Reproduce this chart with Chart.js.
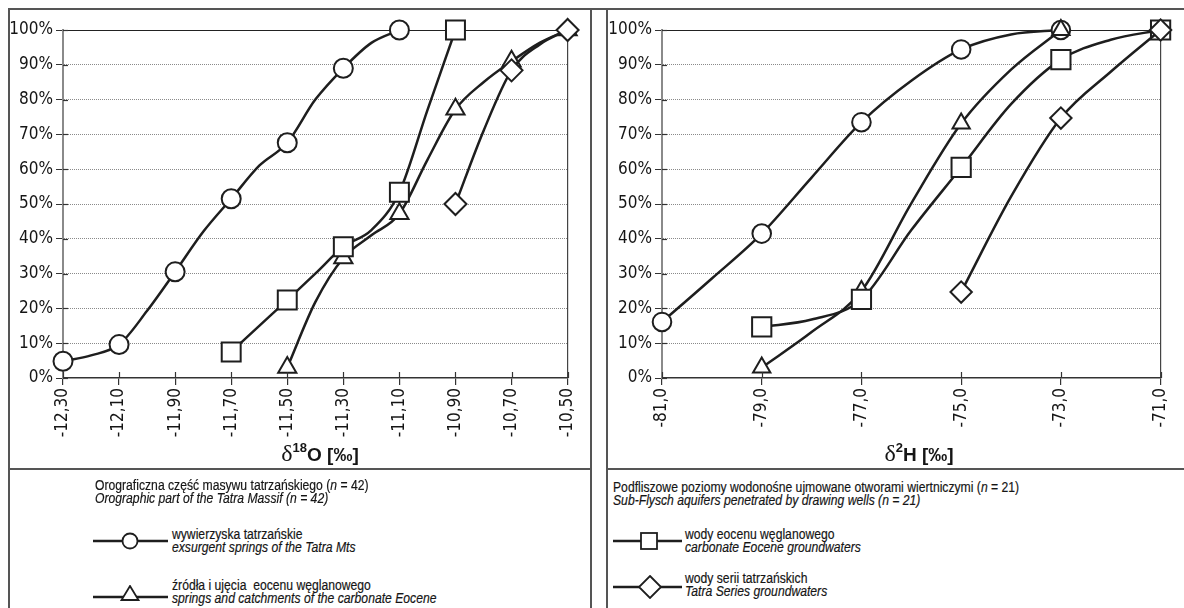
<!DOCTYPE html>
<html>
<head>
<meta charset="utf-8">
<script src="https://cdn.jsdelivr.net/npm/chart.js@4.4.1/dist/chart.umd.min.js"></script>
<style>
  body { margin:0; background:#fff; width:1184px; height:608px; overflow:hidden; position:relative;
         font-family:'Liberation Sans',Arial,sans-serif; color:#151515; }
  .box { position:absolute; box-sizing:border-box; border:2px solid #555; }
  canvas { position:absolute; }
  .ttl { position:absolute; text-align:center; font-weight:bold; font-size:19px; }
  .ttl .d { font-family:'Liberation Serif','DejaVu Serif',serif; font-weight:normal; font-size:24px; }
  .ttl sup { font-size:13px; position:relative; top:-2px; }
  .txt { position:absolute; font-size:15.5px; line-height:13px; white-space:nowrap;
         transform:scaleX(0.785); transform-origin:0 0; -webkit-text-stroke:0.2px #151515; }
  .txt i { font-style:italic; }
  svg { position:absolute; }
</style>
</head>
<body>
<div class="box" style="left:8px;top:8px;width:584px;height:462px;"></div>
<div class="box" style="left:606px;top:8px;width:600px;height:462px;"></div>
<div class="box" style="left:8px;top:468px;width:584px;height:160px;"></div>
<div class="box" style="left:606px;top:468px;width:600px;height:160px;"></div>
<div style="position:absolute;left:590px;top:8px;width:18px;height:2px;background:#555;"></div>

<canvas id="grafO" width="583" height="460" style="left:8px;top:9px;"></canvas>
<canvas id="grafH" width="578" height="460" style="left:606px;top:9px;"></canvas>

<div class="ttl" style="left:220px;top:440px;width:200px;"><span class="d">δ</span><sup>18</sup>O [‰]</div>
<div class="ttl" style="left:819px;top:440px;width:200px;"><span class="d">δ</span><sup>2</sup>H [‰]</div>

<!-- legenda lewa -->
<div class="txt" style="left:95px;top:478px;">Orograficzna część masywu tatrzańskiego (<i>n</i> = 42)<br><i>Orographic part of the Tatra Massif (n = 42)</i></div>
<svg style="left:92px;top:531px;" width="78" height="20"><line x1="1" y1="10" x2="76" y2="10" stroke="#1e1e1e" stroke-width="2.5"/><circle cx="38" cy="10" r="7.5" fill="#fff" stroke="#1e1e1e" stroke-width="1.8"/></svg>
<div class="txt" style="left:172px;top:527px;">wywierzyska tatrzańskie<br><i>exsurgent springs of the Tatra Mts</i></div>
<svg style="left:92px;top:585px;" width="78" height="20"><line x1="1" y1="12" x2="76" y2="12" stroke="#1e1e1e" stroke-width="2.5"/><polygon points="38,1 46.5,15 29.5,15" fill="#fff" stroke="#1e1e1e" stroke-width="1.8"/></svg>
<div class="txt" style="left:172px;top:578px;">źródła i ujęcia&nbsp; eocenu węglanowego<br><i>springs and catchments of the carbonate Eocene</i></div>

<!-- legenda prawa -->
<div class="txt" style="left:613px;top:480px;">Podfliszowe poziomy wodonośne ujmowane otworami wiertniczymi (<i>n</i> = 21)<br><i>Sub-Flysch aquifers penetrated by drawing wells (n = 21)</i></div>
<svg style="left:612px;top:530px;" width="72" height="22"><line x1="1" y1="11" x2="70" y2="11" stroke="#1e1e1e" stroke-width="2.5"/><rect x="29" y="3" width="16" height="16" fill="#fff" stroke="#1e1e1e" stroke-width="1.8"/></svg>
<div class="txt" style="left:685px;top:527px;">wody eocenu węglanowego<br><i>carbonate Eocene groundwaters</i></div>
<svg style="left:612px;top:575px;" width="72" height="24"><line x1="1" y1="12" x2="70" y2="12" stroke="#1e1e1e" stroke-width="2.5"/><polygon points="38,1 49,12 38,23 27,12" fill="#fff" stroke="#1e1e1e" stroke-width="1.8"/></svg>
<div class="txt" style="left:685px;top:571px;">wody serii tatrzańskich<br><i>Tatra Series groundwaters</i></div>

<script>
// osie
var pctTicks = [0,10,20,30,40,50,60,70,80,90,100];
var ticksO = [-12.3,-12.1,-11.9,-11.7,-11.5,-11.3,-11.1,-10.9,-10.7,-10.5];
var ticksH = [-81,-79,-77,-75,-73,-71];

// delta 18O - orograficzna czesc masywu
var circO_x = [-12.3,-12.2,-12.1,-12.0,-11.9,-11.8,-11.7,-11.6,-11.5,-11.4,-11.3,-11.2,-11.1];
var circO_y = [4.8,6.5,9.6,19.3,30.5,42,51.5,61,67.6,80,89,96.3,100];
var triO_x = [-11.5,-11.4,-11.3,-11.2,-11.1,-11.0,-10.9,-10.8,-10.7,-10.6,-10.5];
var triO_y = [3,21.8,34.5,41,47.2,62.7,77.2,85,91,96.3,100];
var sqO_x = [-11.7,-11.6,-11.5,-11.4,-11.3,-11.2,-11.1,-11.0,-10.9];
var sqO_y = [7.5,15,22.4,30,37.7,42.5,53.4,77,100];
var diaO_x = [-10.9,-10.8,-10.7,-10.6,-10.5];
var diaO_y = [50,71,88.4,95.8,100];

// delta 2H - podfliszowe poziomy wodonosne
var circH_x = [-81,-80,-79,-78,-77,-76,-75,-74,-73];
var circH_y = [16.1,28.6,41.5,57.6,73.5,85.4,94.4,98.7,100];
var triH_x = [-79,-78,-77,-76,-75,-74,-73];
var triH_y = [3,13.2,25,50.2,73.1,88.6,100];
var sqH_x = [-79,-78,-77,-76,-75,-74,-73,-72,-71];
var sqH_y = [14.7,16.8,22.6,42.5,60.5,78.7,91.5,97.2,100];
var diaH_x = [-75,-74,-73,-72,-71];
var diaH_y = [24.7,52.1,74.7,88,100];

var czcionka = { family: "'DejaVu Sans Condensed','Liberation Sans',sans-serif", size: 17 };
var czarny = '#1e1e1e';

function naTiku(x, ticks){
    return ticks.some(function(t){ return Math.abs(t - x) < 1e-6; });
}

function seria(xs, ys, styl, r, ticks){
    return {
        data: xs.map(function(x, i){ return {x: x, y: ys[i]}; }),
        borderColor: czarny,
        borderWidth: 2.5,
        pointStyle: styl,
        pointRadius: xs.map(function(x){ return naTiku(x, ticks) ? r : 0; }),
        pointBackgroundColor: '#fff',
        pointBorderColor: czarny,
        pointBorderWidth: 2,
        cubicInterpolationMode: 'monotone',
        fill: false,
        clip: false
    };
}

// krotkie kreski osi do wnetrza wykresu
var kreski = {
    id: 'kreski',
    afterDraw: function(chart){
        var c = chart.ctx, a = chart.chartArea;
        c.save();
        c.strokeStyle = '#333';
        c.lineWidth = 1.2;
        chart.scales.x.ticks.forEach(function(t){
            var px = Math.round(chart.scales.x.getPixelForValue(t.value)) + 0.5;
            c.beginPath(); c.moveTo(px, a.bottom); c.lineTo(px, a.bottom - 6); c.stroke();
        });
        chart.scales.y.ticks.forEach(function(t){
            var py = Math.round(chart.scales.y.getPixelForValue(t.value)) + 0.5;
            c.beginPath(); c.moveTo(a.left, py); c.lineTo(a.left + 5, py); c.stroke();
        });
        c.restore();
    }
};

function wykres(id, datasets, ticks, fmt, yWidth, rightPad){
    var ostatni = ticks[ticks.length - 1];
    return new Chart(document.getElementById(id).getContext('2d'), {
        type: 'line',
        data: { datasets: datasets },
        plugins: [kreski],
        options: {
            responsive: false,
            animation: false,
            devicePixelRatio: 1,
            layout: { padding: { top: 21, right: rightPad, left: 0, bottom: 0 } },
            plugins: { legend: { display: false }, tooltip: { enabled: false } },
            scales: {
                x: {
                    type: 'linear',
                    min: ticks[0],
                    max: ostatni,
                    afterBuildTicks: function(s){ s.ticks = ticks.map(function(v){ return {value: v}; }); },
                    afterFit: function(s){ s.height = 91; },
                    ticks: { callback: fmt, minRotation: 90, maxRotation: 90, autoSkip: false,
                             font: czcionka, color: '#151515', padding: 3 },
                    grid: {
                        color: function(ctx){ return ctx.tick && Math.abs(ctx.tick.value - ostatni) < 1e-6 ? '#444' : 'rgba(0,0,0,0)'; },
                        tickColor: '#333', tickLength: 7, lineWidth: 1.2
                    },
                    border: { color: '#333', width: 1.5 }
                },
                y: {
                    min: 0,
                    max: 100,
                    afterBuildTicks: function(s){ s.ticks = pctTicks.map(function(v){ return {value: v}; }); },
                    afterFit: function(s){ s.width = yWidth; },
                    ticks: { callback: function(v){ return v + '%'; }, font: czcionka, color: '#151515', padding: 3 },
                    grid: {
                        color: function(ctx){
                            if (!ctx.tick) return '#888';
                            if (ctx.tick.value === 100) return '#222';
                            if (ctx.tick.value === 0) return 'rgba(0,0,0,0)';
                            return '#8a8a8a';
                        },
                        tickColor: '#333', tickLength: 7, lineWidth: 1
                    },
                    border: {
                        color: '#8a8a8a', width: 2,
                        dash: function(ctx){ return ctx.tick && ctx.tick.value === 100 ? [] : [1, 1]; }
                    }
                }
            }
        }
    });
}

window.onload = function(){
    wykres('grafO', [
        seria(diaO_x, diaO_y, 'rectRot', 11, ticksO),
        seria(sqO_x, sqO_y, 'rect', 13.4, ticksO),
        seria(triO_x, triO_y, 'triangle', 10.5, ticksO),
        seria(circO_x, circO_y, 'circle', 9.5, ticksO)
    ], ticksO, function(v){ return v.toFixed(2).replace('.', ','); }, 55, 14);

    wykres('grafH', [
        seria(diaH_x, diaH_y, 'rectRot', 10.7, ticksH),
        seria(sqH_x, sqH_y, 'rect', 13.6, ticksH),
        seria(triH_x, triH_y, 'triangle', 10, ticksH),
        seria(circH_x, circH_y, 'circle', 9.3, ticksH)
    ], ticksH, function(v){ return v.toFixed(1).replace('.', ','); }, 56, 8);
};
</script>
</body>
</html>
